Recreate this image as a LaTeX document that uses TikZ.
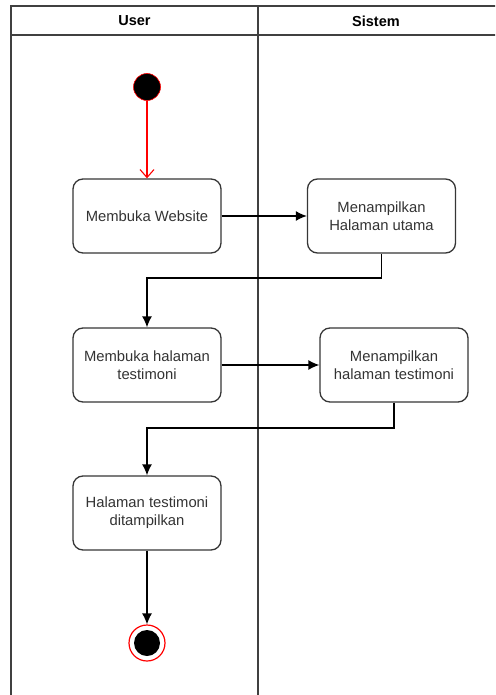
\documentclass[tikz,border=0pt]{standalone}
\usepackage{fontspec}
\setmainfont{Liberation Sans}
\usetikzlibrary{arrows.meta,positioning}
\definecolor{lane}{HTML}{404040}
\definecolor{boxline}{HTML}{363636}
\tikzset{
  act/.style={draw=boxline, line width=1.3pt, rounded corners=10pt, minimum width=148pt, minimum height=74pt, align=center, font=\fontsize{14.8}{18.3}\selectfont, text=black!80, inner sep=0pt},
  flow/.style={draw=black, line width=1.3pt, -{Latex[length=11pt,width=10pt]}},
  lanehead/.style={font=\bfseries\fontsize{14.5}{17}\selectfont},
  laneline/.style={draw=lane, line width=1.4pt}
}
\begin{document}
\begin{tikzpicture}[x=1pt,y=-1pt]
\useasboundingbox (0,0) rectangle (495,695);
\clip (0,0) rectangle (495,695);
% swimlanes
\draw[laneline] (11,720) -- (11,6) -- (520,6);
\draw[laneline] (11,35) -- (520,35);
\draw[laneline] (258,6) -- (258,720);
\node[lanehead] (hu) at (134.5,21) {User};
\node[lanehead] (hs) at (376,21) {Sistem};
% start
\node[circle, fill=black, draw=red, line width=0.6pt, minimum size=27pt, inner sep=0pt] (start) at (147,87) {};
% activities
\node[act] (a1) at (147,216) {Membuka Website};
\node[act] (a2) at (381.5,216) {Menampilkan\\Halaman utama};
\node[act] (a3) at (147,365) {Membuka halaman\\testimoni};
\node[act] (a4) at (394,365) {Menampilkan\\halaman testimoni};
\node[act] (a5) at (147,513) {Halaman testimoni\\ditampilkan};
% end
\node[circle, draw=red, line width=1.2pt, fill=white, minimum size=36pt, inner sep=0pt] (end) at (147,643) {};
\node[circle, fill=black, minimum size=26pt, inner sep=0pt] (endin) at (end) {};
% connectors
\draw[draw=red, line width=1.1pt, -{Straight Barb[length=8pt,width=14pt]}] (start) -- (a1);
\draw[flow] (a1) -- (a2);
\draw[flow] (a2.south) |- (147,278) -- (a3.north);
\draw[flow] (a3) -- (a4);
\draw[flow] (a4.south) |- (147,428) -- (a5.north);
\draw[flow] (a5) -- (end);
\end{tikzpicture}
\end{document}
